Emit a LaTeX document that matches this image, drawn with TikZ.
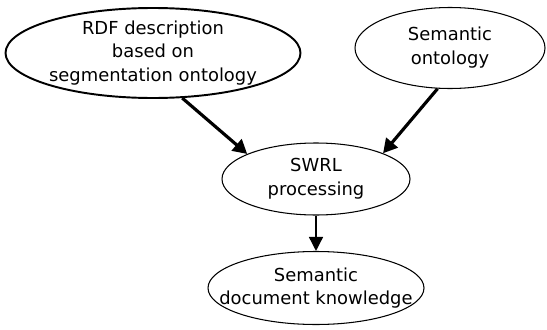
\documentclass[tikz,border=0pt]{standalone}
\usepackage{fontspec}
\setmainfont{DejaVu Sans}
\usepackage{tikz}
\usetikzlibrary{arrows.meta, shapes.geometric}

\begin{document}
\begin{tikzpicture}[
    blob/.style={ellipse, draw=black, line width=0.6pt, inner sep=0pt},
    label text/.style={align=center, inner sep=0pt, font=\fontsize{10.2}{13.6}\selectfont},
    flow/.style={-{Triangle[length=8pt, width=8.5pt]}, line width=1.8pt},
    thinflow/.style={-{Triangle[length=8pt, width=8pt]}, line width=0.8pt}
  ]
  \useasboundingbox (0,0) rectangle (10.94,-6.58);

  % Inputs
  \node[blob, line width=1.1pt, minimum width=5.9cm, minimum height=1.8cm] (rdf) at (3.06,-1.06) {};
  \node[label text] (rdftext) at (rdf) {RDF description\\based on\\segmentation ontology};
  \node[blob, minimum width=3.8cm, minimum height=1.62cm] (sem) at (9.0,-0.96) {};
  \node[label text] (semtext) at (sem) {Semantic\\ontology};

  % Reasoning
  \node[blob, minimum width=3.76cm, minimum height=1.44cm] (swrl) at (6.32,-3.58) {};
  \node[label text] (swrltext) at (swrl) {SWRL\\processing};

  % Output
  \node[blob, minimum width=4.32cm, minimum height=1.46cm] (know) at (6.32,-5.76) {};
  \node[label text] (knowtext) at (know) {Semantic\\document knowledge};

  \draw[flow] (rdf.-57) -- (swrl.160);
  \draw[flow] (sem.-107) -- (swrl.21);
  \draw[thinflow] (swrl.south) -- (know.north);
\end{tikzpicture}
\end{document}
